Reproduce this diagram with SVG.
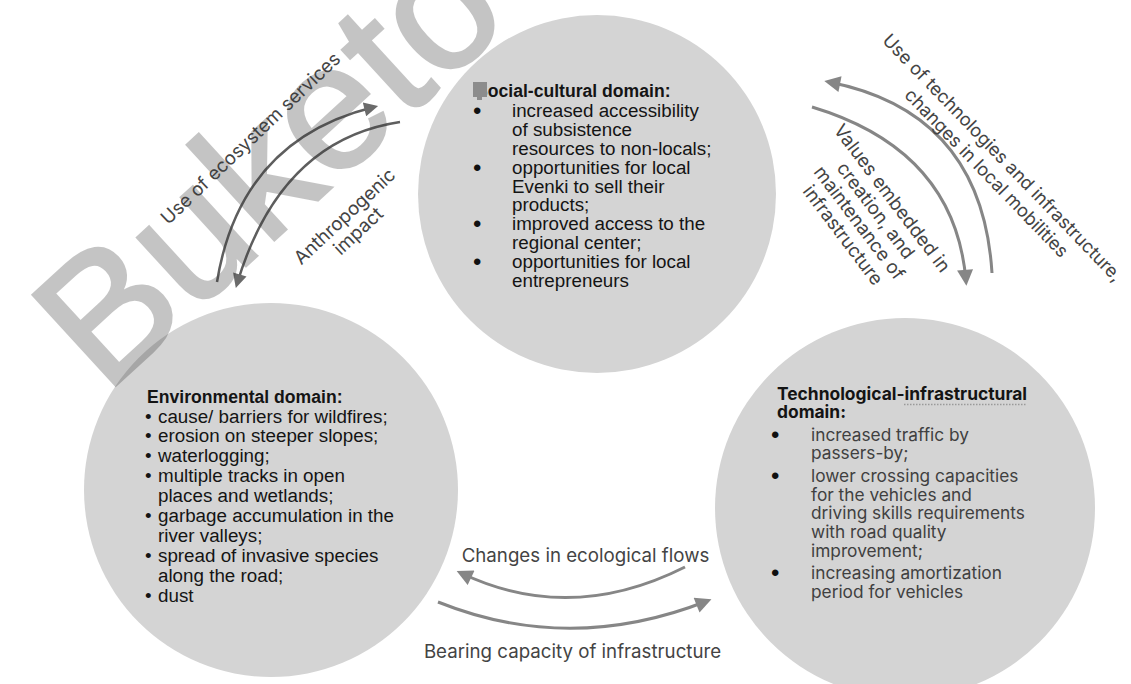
<svg xmlns="http://www.w3.org/2000/svg" width="1131" height="684" viewBox="0 0 1131 684">
<defs>
<style>
.circ{fill:#d4d4d4}
.sans{font-family:"Liberation Sans",Arial,sans-serif;font-size:18.8px;fill:#141414}
.sansb{font-family:"Liberation Sans",Arial,sans-serif;font-size:17.6px;font-weight:bold;fill:#141414}
.bul{font-family:"Liberation Sans",Arial,sans-serif;font-size:24px;fill:#111}
.inter{font-family:Inter,"Liberation Sans",sans-serif;font-size:17.3px;fill:#404040}
.interb{font-family:Inter,"Liberation Sans",sans-serif;font-size:17.4px;font-weight:bold;fill:#141414}
.lbl{font-family:Inter,"Liberation Sans",sans-serif;font-size:18.7px;fill:#444;text-anchor:middle}
.arrD{fill:none;stroke:#5e5e5e;stroke-width:2.5}
.arr{fill:none;stroke:#868686;stroke-width:3}
.wm{font-family:"Liberation Sans",Arial,sans-serif;font-size:178px;fill:#383838;stroke:#383838;stroke-width:3}
</style>
<marker id="ahD" viewBox="0 0 10 10" refX="7" refY="5" markerWidth="18" markerHeight="14" markerUnits="userSpaceOnUse" orient="auto"><path d="M0,0 L10,5 L0,10 z" fill="#6a6a6a"/></marker>
<marker id="ah" viewBox="0 0 10 10" refX="7" refY="5" markerWidth="20" markerHeight="16" markerUnits="userSpaceOnUse" orient="auto"><path d="M0,0 L10,5 L0,10 z" fill="#868686"/></marker>
</defs>
<rect width="1131" height="684" fill="#fff"/>

<g id="social">
<circle class="circ" cx="597" cy="194" r="179"/>
<text class="sansb" x="476" y="97">Social-cultural domain:</text>
<rect x="473" y="82" width="14" height="15" fill="#8c8c8c"/>
<rect x="477" y="96" width="5" height="4" fill="#8c8c8c"/>
<g class="bul">
<text x="473" y="119">•</text>
<text x="473" y="176">•</text>
<text x="473" y="232">•</text>
<text x="473" y="270">•</text>
</g>
<g class="sans">
<text x="512" y="117">increased accessibility</text>
<text x="512" y="136">of subsistence</text>
<text x="512" y="155">resources to non-locals;</text>
<text x="512" y="174">opportunities for local</text>
<text x="512" y="192.5">Evenki to sell their</text>
<text x="512" y="211">products;</text>
<text x="512" y="230">improved access to the</text>
<text x="512" y="249">regional center;</text>
<text x="512" y="268">opportunities for local</text>
<text x="512" y="287">entrepreneurs</text>
</g>
</g>

<g id="environmental">
<circle class="circ" cx="271" cy="490" r="187"/>
<text class="sansb" x="147" y="403">Environmental domain:</text>
<g class="sans">
<text x="145" y="422.5">•</text><text x="158" y="422.5">cause/ barriers for wildfires;</text>
<text x="145" y="442.4">•</text><text x="158" y="442.4">erosion on steeper slopes;</text>
<text x="145" y="462.3">•</text><text x="158" y="462.3">waterlogging;</text>
<text x="145" y="482.2">•</text><text x="158" y="482.2">multiple tracks in open</text>
<text x="158" y="502.1">places and wetlands;</text>
<text x="145" y="522">•</text><text x="158" y="522">garbage accumulation in the</text>
<text x="158" y="541.9">river valleys;</text>
<text x="145" y="561.8">•</text><text x="158" y="561.8">spread of invasive species</text>
<text x="158" y="581.7">along the road;</text>
<text x="145" y="601.6">•</text><text x="158" y="601.6">dust</text>
</g>
</g>

<g id="technological">
<circle class="circ" cx="905" cy="508" r="190"/>
<text class="interb" x="777" y="400">Technological-infrastructural</text>
<text class="interb" x="777" y="418">domain:</text>
<path d="M904,404.5 L1027,404.5" stroke="#9a9a9a" stroke-width="1.4" stroke-dasharray="1.5 1.5" fill="none"/>
<g class="bul">
<text x="771" y="442.5">•</text>
<text x="771" y="483.7">•</text>
<text x="771" y="581.3">•</text>
</g>
<g class="inter">
<text x="811" y="440.5">increased traffic by</text>
<text x="811" y="459.3">passers-by;</text>
<text x="811" y="481.7">lower crossing capacities</text>
<text x="811" y="500.5">for the vehicles and</text>
<text x="811" y="519.3">driving skills requirements</text>
<text x="811" y="538.1">with road quality</text>
<text x="811" y="556.9">improvement;</text>
<text x="811" y="579.3">increasing amortization</text>
<text x="811" y="598.1">period for vehicles</text>
</g>
</g>

<g id="connectors">
<path class="arrD" d="M217,282 Q240,140 374,107" marker-end="url(#ahD)"/>
<path class="arrD" d="M400,122 Q280,140 237,284" marker-end="url(#ahD)"/>
<path class="arr" d="M992,273 Q982,112 829,82" marker-end="url(#ah)"/>
<path class="arr" d="M812,107 Q955,150 966,281" marker-end="url(#ah)"/>
<path class="arr" d="M685,567 Q570,625 461,573" marker-end="url(#ah)"/>
<path class="arr" d="M438,602 Q570,655 707,601" marker-end="url(#ah)"/>
</g>

<g id="labels">
<text class="lbl" transform="translate(255,143) rotate(-43.6)">Use of ecosystem services</text>
<g transform="translate(349,221) rotate(-43)">
<text class="lbl" x="0" y="0">Anthropogenic</text>
<text class="lbl" x="0" y="20">impact</text>
</g>
<g transform="translate(998,162) rotate(46)">
<text class="lbl" x="0" y="0" style="font-size:18.2px">Use of technologies and infrastructure,</text>
<text class="lbl" x="0" y="22" style="font-size:18.2px">changes in local mobilities</text>
</g>
<g transform="translate(887,202) rotate(53)">
<text class="lbl" x="0" y="0">Values embedded in</text>
<text class="lbl" x="0" y="20.5">creation, and</text>
<text class="lbl" x="0" y="41">maintenance of</text>
<text class="lbl" x="0" y="61.5">infrastructure</text>
</g>
<text class="lbl" x="585.5" y="562">Changes in ecological flows</text>
<text class="lbl" x="572.5" y="658">Bearing capacity of infrastructure</text>
</g>

<g opacity="0.29">
<text class="wm" transform="translate(105,395) rotate(-42.5)">Buketov</text>
</g>
</svg>
